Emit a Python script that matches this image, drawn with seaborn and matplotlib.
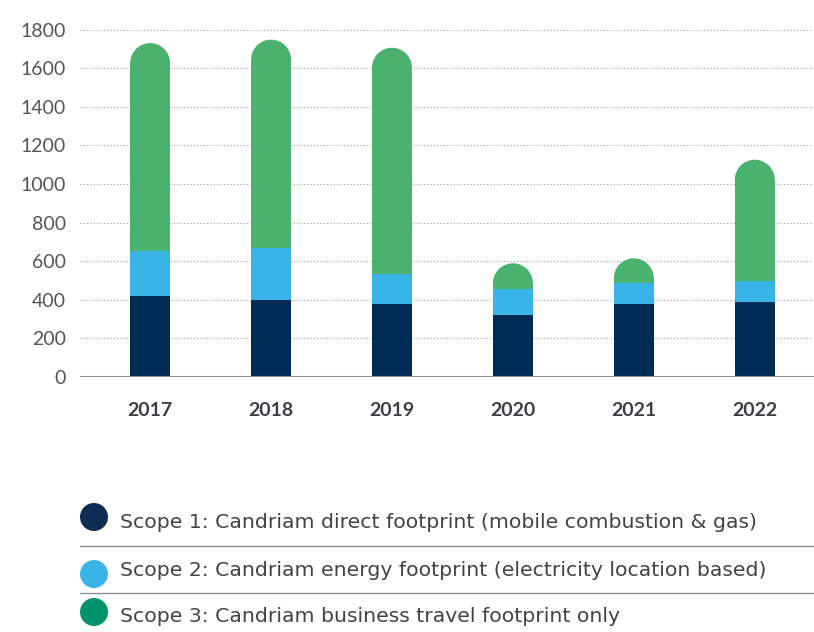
import matplotlib.pyplot as plt
import seaborn as sns
import pandas as pd
from matplotlib.patches import Ellipse
from matplotlib.lines import Line2D

years = ['2017', '2018', '2019', '2020', '2021', '2022']
scope1 = [418, 397, 376, 320, 376, 387]
scope2 = [233, 270, 158, 134, 109, 109]
scope3 = [1079, 1081, 1172, 135, 130, 630]

legend_labels = [
    'Scope 1: Candriam direct footprint (mobile combustion & gas)',
    'Scope 2: Candriam energy footprint (electricity location based)',
    'Scope 3: Candriam business travel footprint only',
]
bar_colors = ['#002b55', '#38b4e6', '#4ab26e']
legend_colors = ['#0f2c52', '#3ab4e8', '#00936b']

df = pd.DataFrame({'year': years, 's1': scope1, 's2': scope2, 's3': scope3})
df['c2'] = df['s1'] + df['s2']
df['total'] = df['c2'] + df['s3']

sns.set_style('white')
plt.rcParams['font.family'] = ['Lato', 'DejaVu Sans']

fig = plt.figure(figsize=(8.14, 6.32), dpi=100)
ax = fig.add_axes([80 / 814, 1 - 377 / 632, 1 - 80 / 814, (377 - 10.3) / 632])

ymax = 1900
bar_w = 0.33
# cap radius in data units so the rounded top is a half circle
ax_h_px = 377 - 10.3
ax_w_px = 814 - 80
xlim = (-0.58, 5.49)
r_data = (bar_w / (xlim[1] - xlim[0]) * ax_w_px / 2) * ymax / ax_h_px
df['green_top'] = df['total'] - r_data

bar_kw = dict(width=bar_w, saturation=1, linewidth=0, ax=ax)
sns.barplot(data=df, x='year', y='green_top', color=bar_colors[2], zorder=3, **bar_kw)
sns.barplot(data=df, x='year', y='c2', color=bar_colors[1], zorder=4, **bar_kw)
sns.barplot(data=df, x='year', y='s1', color=bar_colors[0], zorder=5, **bar_kw)

for i, row in df.iterrows():
    ax.add_patch(Ellipse((i, row['green_top']), bar_w, 2 * r_data,
                         facecolor=bar_colors[2], edgecolor='none',
                         linewidth=0, zorder=3))

ax.set_xlim(*xlim)
ax.set_ylim(0, ymax)
ax.set_yticks(range(0, 1801, 200))
for y in range(200, 1801, 200):
    ax.axhline(y, color='#9a9fae', linestyle=(0, (1, 2)), linewidth=0.8, zorder=1)
ax.axhline(0, color='#8a90a0', linewidth=1.5, zorder=6)

ax.set_xlabel('')
ax.set_ylabel('')
ax.tick_params(axis='y', length=0, pad=10, labelsize=14, labelcolor='#555555')
ax.tick_params(axis='x', length=0, pad=18, labelsize=14, labelcolor='#3a3f44')
for lab in ax.get_xticklabels():
    lab.set_fontweight('bold')
sns.despine(ax=ax, left=True, bottom=True, top=True, right=True)

# custom legend below the chart
dot_y = [517, 574, 612]
text_y = [522, 571, 617]
for k in range(3):
    fig.add_artist(Ellipse((94 / 814, 1 - dot_y[k] / 632), 28 / 814, 28 / 632,
                           transform=fig.transFigure, facecolor=legend_colors[k],
                           edgecolor='none'))
    fig.text(120 / 814, 1 - text_y[k] / 632, legend_labels[k], fontsize=14.7,
             color='#444444', va='center', ha='left', family=['DejaVu Sans'])
for sy in [545.7, 592.7]:
    fig.add_artist(Line2D([80 / 814, 1.0], [1 - sy / 632, 1 - sy / 632],
                          transform=fig.transFigure, color='#8a8f99', linewidth=1))

fig.savefig('out.png', dpi=100)
plt.close(fig)
